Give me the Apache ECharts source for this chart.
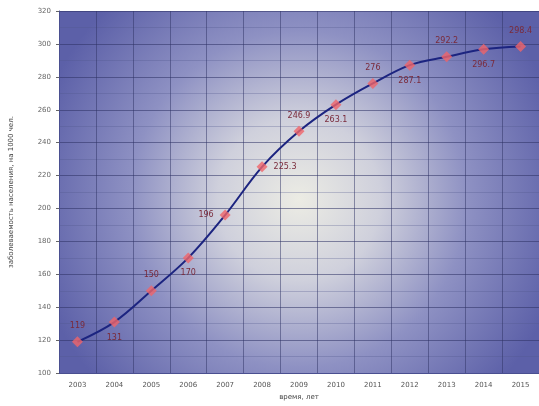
<!DOCTYPE html>
<html>
<head>
<meta charset="utf-8">
<script src="https://cdn.jsdelivr.net/npm/echarts@6/dist/echarts.min.js"></script>
<style>html,body{margin:0;padding:0;background:#fff}#c{width:539px;height:406px}</style>
</head>
<body>
<div id="c"></div>
<script>
const years = ['2003','2004','2005','2006','2007','2008','2009','2010','2011','2012','2013','2014','2015'];
const values = [119, 131, 150, 170, 196, 225.3, 246.9, 263.1, 276, 287.1, 292.2, 296.7, 298.4];
const labelPlace = ['top','bottom','top','bottom','left','right','top','bottom','top','bottom','top','bottom','top'];
const yMin = 100, yMax = 320, yStep = 20;

const chart = echarts.init(document.getElementById('c'));
chart.setOption({
  animation: false,
  grid: {
    left: 56, top: 11, width: 484, height: 363,
    show: true, borderWidth: 0,
    backgroundColor: {
      type: 'radial', x: 0.5, y: 0.52, r: 0.75,
      colorStops: [
        {offset: 0, color: '#ecece4'},
        {offset: 0.3, color: '#cfd0dc'},
        {offset: 0.62, color: '#8e91c3'},
        {offset: 1, color: '#5c60a8'}
      ]
    }
  },
  xAxis: {
    type: 'category', data: years, boundaryGap: true,
    name: 'время, лет', nameLocation: 'middle', nameGap: 20,
    nameTextStyle: {fontSize: 7, color: '#444', fontFamily: 'DejaVu Sans'},
    axisLine: {lineStyle: {color: '#4a4f90'}},
    axisTick: {show: false},
    axisLabel: {fontSize: 7, color: '#555', margin: 9, fontFamily: 'DejaVu Sans'},
    splitLine: {show: true, lineStyle: {color: 'rgba(45,50,100,0.5)', width: 1}}
  },
  yAxis: {
    type: 'value', min: yMin, max: yMax, interval: yStep,
    name: 'заболеваемость населения, на 1000 чел.', nameLocation: 'middle', nameGap: 44,
    nameTextStyle: {fontSize: 7, color: '#444', fontFamily: 'DejaVu Sans'},
    axisLine: {show: true, lineStyle: {color: '#4a4f90'}},
    axisTick: {show: true, length: 3, lineStyle: {color: '#666'}},
    axisLabel: {fontSize: 7, color: '#666', margin: 8, fontFamily: 'DejaVu Sans'},
    splitLine: {show: true, lineStyle: {color: 'rgba(45,50,100,0.55)', width: 1}},
    minorTick: {show: false, splitNumber: 2},
    minorSplitLine: {show: true, lineStyle: {color: 'rgba(80,85,140,0.3)', width: 1}}
  },
  series: [{
    type: 'line',
    data: values.map((v, i) => ({value: v, label: {position: labelPlace[i]}})),
    smooth: 0.35,
    lineStyle: {color: '#1c2480', width: 2},
    symbol: 'diamond', symbolSize: 11,
    itemStyle: {color: 'rgba(240,100,105,0.8)'},
    label: {
      show: true, fontSize: 8, color: '#7a2a3a', distance: 6,
      fontFamily: 'DejaVu Sans',
      formatter: p => String(p.value)
    }
  }]
});
</script>
</body>
</html>
